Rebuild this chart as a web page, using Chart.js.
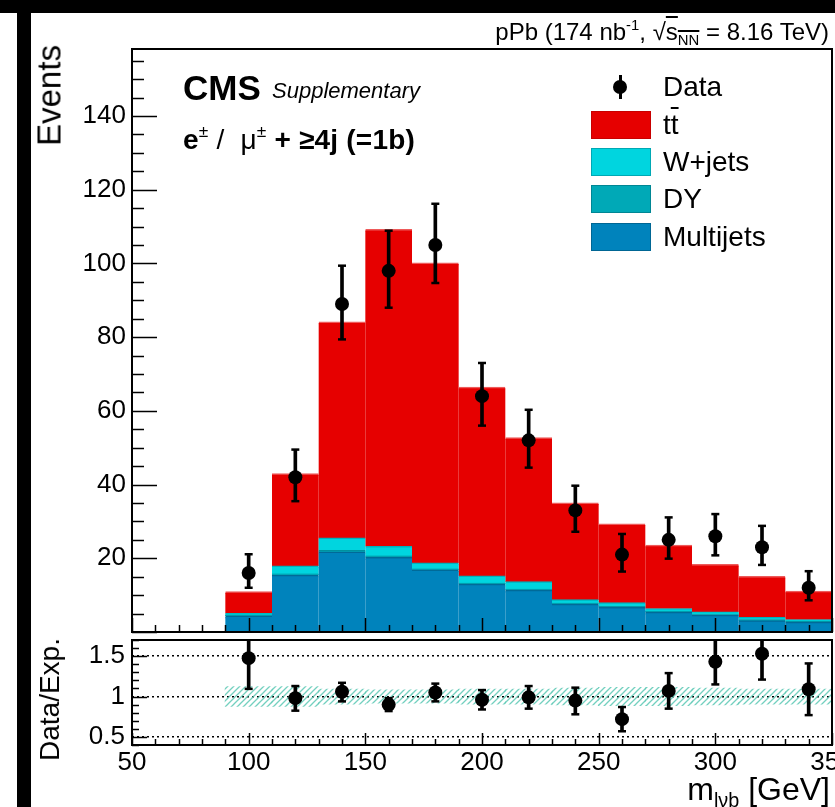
<!DOCTYPE html>
<html>
<head>
<meta charset="utf-8">
<script src="https://cdn.jsdelivr.net/npm/chart.js@4.4.1/dist/chart.umd.min.js"></script>
<style>
  html, body { margin: 0; padding: 0; width: 835px; height: 807px; overflow: hidden; background: #fff; }
  body { position: relative; font-family: "Liberation Sans", Arial, sans-serif; color: #000; }
  canvas { position: absolute; left: 0; }
  #mainChart { top: 0; }
  #ratioChart { top: 632px; }
  .bar-black { position: absolute; background: #000; }
  .txt { position: absolute; white-space: nowrap; line-height: 1; }
  .sup { font-size: 0.62em; position: relative; top: -0.7em; }
  .sub { font-size: 0.62em; position: relative; top: 0.35em; }
  .rot { position: absolute; white-space: nowrap; line-height: 1; transform-origin: 0 0; transform: rotate(-90deg) translate(-100%, -50%); }
  .box { position: absolute; left: 591px; width: 58px; height: 26px; border: 1px solid; }
  .leg { position: absolute; left: 663px; font-size: 28px; line-height: 1; white-space: nowrap; }
</style>
</head>
<body>
<div class="bar-black" style="left:0;top:0;width:835px;height:13px"></div>
<div class="bar-black" style="left:17px;top:13px;width:14px;height:794px"></div>

<canvas id="mainChart" width="870" height="640"></canvas>
<canvas id="ratioChart" width="870" height="175"></canvas>

<div class="txt" style="right:6px;top:20px;font-size:24px">pPb (174 nb<span class="sup">-1</span>, &radic;<span style="text-decoration:overline">s<span class="sub">NN</span></span> = 8.16 TeV)</div>
<div class="txt" style="left:183px;top:70px;font-size:35px;font-weight:bold">CMS</div>
<div class="txt" style="left:272px;top:80px;font-size:22px;font-style:italic">Supplementary</div>
<div class="txt" style="left:183px;top:126px;font-size:28px;letter-spacing:0.2px"><b>e</b><span class="sup">&plusmn;</span> /&nbsp; &mu;<span class="sup">&plusmn;</span> <b>+ &ge;4j (=1b)</b></div>

<div class="rot" style="left:49px;top:45px;font-size:33px">Events</div>
<div class="rot" style="left:50px;top:638px;font-size:28px">Data/Exp.</div>
<div class="txt" style="right:5px;top:773px;font-size:32px">m<span class="sub">l&nu;b</span> [GeV]</div>

<!-- legend -->
<div style="position:absolute;left:619px;top:75px;width:3px;height:24px;background:#000"></div>
<div style="position:absolute;left:613px;top:80px;width:14px;height:14px;border-radius:50%;background:#000"></div>
<div class="leg" style="top:73px">Data</div>
<div class="box" style="top:111px;background:#e60000;border-color:#c80000"></div>
<div class="leg" style="top:111px">t<span style="text-decoration:overline">t</span></div>
<div class="box" style="top:148px;background:#00d5df;border-color:#00a8b4"></div>
<div class="leg" style="top:148px">W+jets</div>
<div class="box" style="top:185px;background:#00a9b7;border-color:#008694"></div>
<div class="leg" style="top:185px">DY</div>
<div class="box" style="top:223px;background:#0083bc;border-color:#006694"></div>
<div class="leg" style="top:223px">Multijets</div>

<script>
// ====== Data ======
const binCenters = [100, 120, 140, 160, 180, 200, 220, 240, 260, 280, 300, 320, 340];
const multijets = [4.3, 15.4, 21.7, 20.2, 16.8, 12.9, 11.3, 7.5, 6.6, 5.3, 4.5, 3.0, 2.6];
const dy = [0.3, 0.3, 0.4, 0.4, 0.3, 0.3, 0.3, 0.3, 0.3, 0.3, 0.3, 0.3, 0.2];
const wjets = [0.4, 2.2, 3.4, 2.6, 1.6, 2.0, 2.0, 0.9, 1.0, 0.7, 0.6, 0.6, 0.5];
const ttbar = [5.9, 25.0, 58.6, 86.0, 81.4, 51.2, 39.1, 26.3, 21.4, 17.2, 12.9, 11.1, 7.7];
const dataEvents = [16, 42, 89, 98, 105, 64, 52, 33, 21, 25, 26, 23, 12];
const dataHigh = [21.1, 49.5, 99.4, 108.9, 116.2, 73.0, 60.3, 39.7, 26.6, 31.1, 32.0, 28.8, 16.5];
const dataLow = [12.0, 35.5, 79.4, 88.0, 94.7, 56.0, 44.6, 27.2, 16.4, 19.9, 20.8, 18.2, 8.6];
const ratio = [1.475, 0.98, 1.06, 0.90, 1.05, 0.96, 0.99, 0.95, 0.72, 1.07, 1.43, 1.53, 1.09];
const ratioHigh = [1.94, 1.13, 1.17, 0.98, 1.16, 1.08, 1.13, 1.11, 0.87, 1.29, 1.75, 1.92, 1.41];
const ratioLow = [1.095, 0.825, 0.94, 0.82, 0.94, 0.84, 0.85, 0.78, 0.57, 0.85, 1.15, 1.21, 0.77];
const uncHigh = [1.12, 1.12, 1.09, 1.08, 1.08, 1.09, 1.09, 1.10, 1.11, 1.11, 1.10, 1.09, 1.09];
const uncLow = [0.88, 0.88, 0.91, 0.92, 0.92, 0.91, 0.91, 0.90, 0.89, 0.89, 0.90, 0.91, 0.91];
const xTickLabels = [50, 100, 150, 200, 250, 300, 350];
const yTickLabels = [20, 40, 60, 80, 100, 120, 140];
const ratioTickLabels = [0.5, 1, 1.5];

Chart.defaults.font.family = '"Liberation Sans", Arial, sans-serif';
Chart.defaults.color = "#000";

const pts = (vals) => binCenters.map((x, i) => ({ x, y: vals[i] }));
const spans = (lo, hi) => binCenters.map((x, i) => ({ x, y: [lo[i], hi[i]] }));

const hatch = (color) => {
  const c = document.createElement("canvas");
  c.width = 6;
  c.height = 6;
  const g = c.getContext("2d");
  g.strokeStyle = color;
  g.lineWidth = 1.3;
  g.beginPath();
  g.moveTo(0, 6); g.lineTo(6, 0);
  g.moveTo(-1, 1); g.lineTo(1, -1);
  g.moveTo(5, 7); g.lineTo(7, 5);
  g.stroke();
  return g.createPattern(c, "repeat");
};

// keep the plot frame exactly where we put it (no label overflow padding)
const noPad = (s) => {
  s.paddingTop = 0;
  s.paddingBottom = 0;
  s.paddingLeft = 0;
  s.paddingRight = 0;
};

// ROOT style frame with ticks pointing inwards
const frameTicks = {
  id: "frameTicks",
  afterDatasetsDraw(chart, args, o) {
    const { ctx, chartArea: a, scales: { x, y } } = chart;
    const isMajor = (v, step) => Math.abs(v / step - Math.round(v / step)) < 1e-6;
    ctx.save();
    ctx.strokeStyle = "#000";
    ctx.lineWidth = 1.5;
    ctx.beginPath();
    for (let i = Math.ceil(x.min / o.xMinor - 1e-6); i * o.xMinor <= x.max + 1e-6; i++) {
      const v = i * o.xMinor;
      const px = Math.round(x.getPixelForValue(v)) + 0.5;
      const len = isMajor(v, o.xMajor) ? o.xMajorLen : o.xMinorLen;
      ctx.moveTo(px, a.bottom);
      ctx.lineTo(px, a.bottom - len);
    }
    for (let i = Math.ceil(y.min / o.yMinor - 1e-6); i * o.yMinor <= y.max + 1e-6; i++) {
      const v = i * o.yMinor;
      const py = Math.round(y.getPixelForValue(v)) + 0.5;
      const len = isMajor(v, o.yMajor) ? o.yMajorLen : o.yMinorLen;
      ctx.moveTo(a.left, py);
      ctx.lineTo(a.left + len, py);
    }
    ctx.stroke();
    ctx.lineWidth = 2;
    ctx.strokeRect(a.left, a.top, a.right - a.left, a.bottom - a.top);
    ctx.restore();
  },
};

const mcSet = (label, vals, fill, line) => ({
  type: "bar",
  label,
  data: pts(vals),
  backgroundColor: fill,
  borderColor: line,
  borderWidth: { top: 1.5, left: 0, right: 0, bottom: 0 },
  inflateAmount: 0.6,
  stack: "mc",
  grouped: false,
  barPercentage: 1,
  categoryPercentage: 1,
  order: 3,
});

const errSets = (low, high, centre, tag) => [
  {
    type: "bar",
    data: spans(low, high),
    backgroundColor: "#000",
    borderWidth: 0,
    barThickness: 3,
    grouped: false,
    stack: tag + "bar",
    order: 2,
  },
  {
    type: "scatter",
    data: pts(high),
    showLine: false,
    pointStyle: "line",
    radius: 4,
    borderColor: "#000",
    borderWidth: 2.5,
    stack: tag + "hi",
    order: 1,
  },
  {
    type: "scatter",
    data: pts(low),
    showLine: false,
    pointStyle: "line",
    radius: 4,
    borderColor: "#000",
    borderWidth: 2.5,
    stack: tag + "lo",
    order: 1,
  },
  {
    type: "scatter",
    data: pts(centre),
    showLine: false,
    pointStyle: "circle",
    radius: 7,
    backgroundColor: "#000",
    borderWidth: 0,
    stack: tag + "pt",
    order: 0,
  },
];

const tickFont = { size: 26 };

// ====== Main panel ======
new Chart(document.getElementById("mainChart"), {
  type: "bar",
  data: {
    datasets: [
      mcSet("Multijets", multijets, "#0083bc", "#006a98"),
      mcSet("DY", dy, "#00a9b7", "#008a96"),
      mcSet("W+jets", wjets, "#00d5df", "#00b0bc"),
      mcSet("tt", ttbar, "#e60000", "#ee5a5a"),
      ...errSets(dataLow, dataHigh, dataEvents, "d"),
    ],
  },
  options: {
    responsive: false,
    animation: false,
    devicePixelRatio: 1,
    layout: { padding: { top: 49, right: 38, left: 0, bottom: 0 } },
    plugins: {
      legend: { display: false },
      tooltip: { enabled: false },
      frameTicks: { xMinor: 10, xMajor: 50, xMinorLen: 7, xMajorLen: 14, yMinor: 5, yMajor: 20, yMinorLen: 12, yMajorLen: 25 },
    },
    scales: {
      x: {
        type: "linear",
        min: 50,
        max: 350,
        offset: false,
        stacked: true,
        grid: { display: false, drawTicks: false },
        border: { display: false },
        ticks: { display: false },
        afterBuildTicks: (s) => { s.ticks = xTickLabels.map((v) => ({ value: v })); },
        afterFit: (s) => { s.height = 8; noPad(s); },
      },
      y: {
        min: 0,
        max: 158.2,
        stacked: true,
        grid: { display: false, drawTicks: false },
        border: { display: false },
        ticks: { font: tickFont, padding: 6, callback: (v) => String(v) },
        afterBuildTicks: (s) => { s.ticks = yTickLabels.map((v) => ({ value: v })); },
        afterFit: (s) => { s.width = 132; noPad(s); },
      },
    },
  },
  plugins: [frameTicks],
});

// ====== Ratio panel ======
new Chart(document.getElementById("ratioChart"), {
  type: "bar",
  data: {
    datasets: [
      {
        type: "bar",
        data: spans(uncLow, uncHigh),
        backgroundColor: hatch("rgba(90,200,180,0.85)"),
        borderWidth: 0,
        inflateAmount: 0.6,
        grouped: false,
        barPercentage: 1,
        categoryPercentage: 1,
        order: 3,
      },
      ...errSets(ratioLow, ratioHigh, ratio, "r"),
    ],
  },
  options: {
    responsive: false,
    animation: false,
    devicePixelRatio: 1,
    layout: { padding: { top: 8, right: 38, left: 0, bottom: 0 } },
    plugins: {
      legend: { display: false },
      tooltip: { enabled: false },
      frameTicks: { xMinor: 10, xMajor: 50, xMinorLen: 6, xMajorLen: 12, yMinor: 0.1, yMajor: 0.5, yMinorLen: 7, yMajorLen: 15 },
    },
    scales: {
      x: {
        type: "linear",
        min: 50,
        max: 350,
        offset: false,
        grid: { display: false, drawTicks: false },
        border: { display: false },
        ticks: { font: tickFont, padding: 2, maxRotation: 0, callback: (v) => String(v) },
        afterBuildTicks: (s) => { s.ticks = xTickLabels.map((v) => ({ value: v })); },
        afterFit: (s) => { s.height = 62; noPad(s); },
      },
      y: {
        min: 0.4,
        max: 1.7,
        grid: { display: true, drawTicks: false, color: "#000", lineWidth: 1.5 },
        border: { display: false, dash: [2, 3] },
        ticks: { font: tickFont, padding: 7, callback: (v) => String(v) },
        afterBuildTicks: (s) => { s.ticks = ratioTickLabels.map((v) => ({ value: v })); },
        afterFit: (s) => { s.width = 132; noPad(s); },
      },
    },
  },
  plugins: [frameTicks],
});
</script>
</body>
</html>
